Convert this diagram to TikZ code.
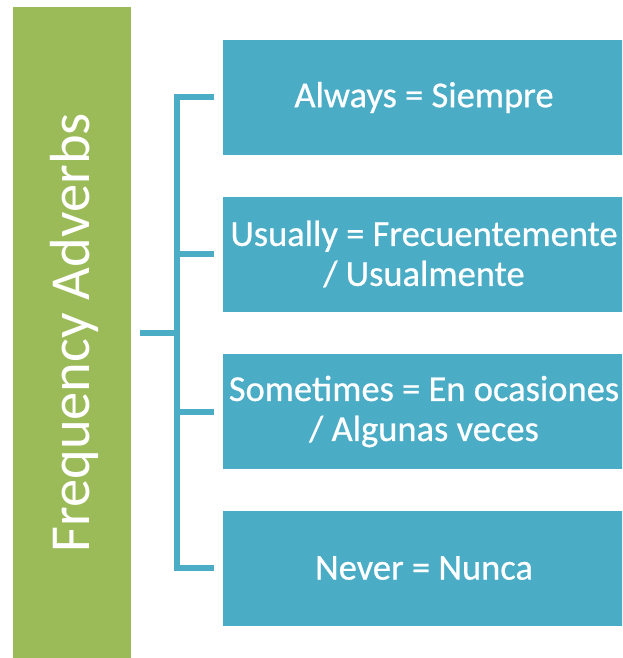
\documentclass[tikz,border=0pt]{standalone}
\usepackage{fontspec}
\setmainfont{Carlito}
\definecolor{fgreen}{HTML}{9BBB59}
\definecolor{fblue}{HTML}{4BACC6}
\begin{document}
\begin{tikzpicture}[x=1pt,y=-1pt,
  greenbar/.style={fill=fgreen,draw=none,minimum width=118pt,minimum height=652pt,inner sep=0pt},
  vlabel/.style={text=white,font=\fontsize{56.5}{60}\selectfont,rotate=90,inner sep=0pt},
  advbox/.style={fill=fblue,draw=none,minimum width=402pt,minimum height=115pt,inner sep=0pt,
    text=white,align=center,font=\addfontfeature{FakeBold=0.6}\fontsize{36.5}{40}\selectfont},
  conn/.style={draw=fblue,line width=6pt,line join=miter}]
\useasboundingbox (0,0) rectangle (622,658);
\clip (0,0) rectangle (622,658);
\node[greenbar] (fa) at (72,333) {};
\node[vlabel] (falabel) at (74,333) {Frequency Adverbs};
\node[advbox] (b1) at (424,97.5) {Always = Siempre};
\node[advbox] (b2) at (424,254) {Usually = Frecuentemente\\/ Usualmente};
\node[advbox] (b3) at (424,411.5) {Sometimes = En ocasiones\\/ Algunas veces};
\node[advbox] (b4) at (424,568) {Never = Nunca};
\coordinate (sp) at (177,333);
\draw[conn] ([xshift=-9pt]b1.west) -- (b1.west -| sp) -- (b4.west -| sp) -- ([xshift=-9pt]b4.west);
\draw[conn] ([xshift=-9pt]b2.west) -- (b2.west -| sp);
\draw[conn] ([xshift=-9pt]b3.west) -- (b3.west -| sp);
\draw[conn] ([xshift=9pt]fa.east) -- (sp);
\end{tikzpicture}
\end{document}
